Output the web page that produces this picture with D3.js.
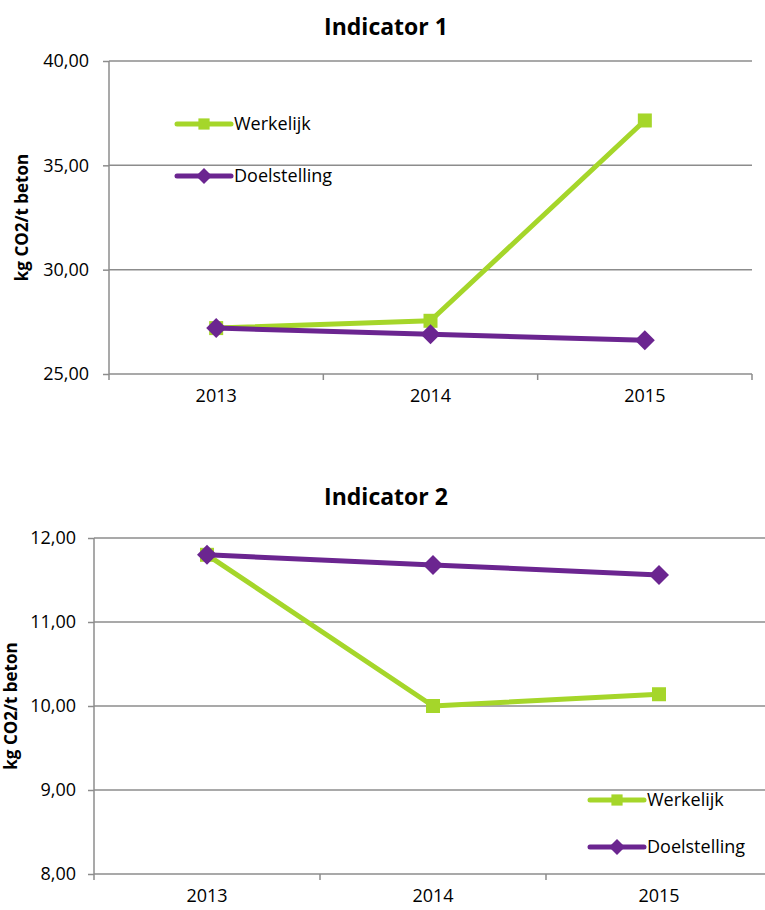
<!DOCTYPE html>
<html>
<head>
<meta charset="utf-8">
<script src="https://cdn.jsdelivr.net/npm/d3@7"></script>
<style>
  body { margin: 0; background: #fff; }
  svg { display: block; font-family: "Open Sans", "Liberation Sans", sans-serif; }
  .grid line { stroke: #8c8c8c; stroke-width: 1.5; }
  .axis path, .axis line { stroke: #8c8c8c; stroke-width: 1.5; }
</style>
</head>
<body>
<svg width="765" height="910"></svg>
<script>
// chart data
const years = ["2013", "2014", "2015"];
const seriesNames = ["Werkelijk", "Doelstelling"];
const werkelijk1 = [27.2, 27.55, 37.15];
const doel1 = [27.2, 26.9, 26.62];
const werkelijk2 = [11.8, 10.0, 10.14];
const doel2 = [11.8, 11.68, 11.56];
const ticks1 = [25, 30, 35, 40];
const ticks2 = [8, 9, 10, 11, 12];

const green = "#a5d62a";
const purple = "#6b2590";
const fmt = d => d3.format(".2f")(d).replace(".", ",");

const svg = d3.select("svg");

// draw one chart panel
function chart(cfg) {
  const x = d3.scaleBand().domain(years).range([cfg.left, cfg.right]);
  const y = d3.scaleLinear().domain(cfg.domain).range([cfg.bottom, cfg.top]);
  const g = svg.append("g");

  // title
  g.append("text")
    .attr("x", cfg.titleX).attr("y", cfg.titleY)
    .attr("text-anchor", "middle")
    .style("font-size", "23px").style("font-weight", "bold")
    .text(cfg.title);

  // grid
  g.append("g").attr("class", "grid")
    .selectAll("line").data(cfg.ticks.filter(t => t !== cfg.domain[0]))
    .enter().append("line")
    .attr("x1", cfg.left).attr("x2", cfg.right)
    .attr("y1", d => y(d)).attr("y2", d => y(d));

  // axes
  g.append("g").attr("class", "axis")
    .attr("transform", "translate(" + cfg.left + ",0)")
    .call(d3.axisLeft(y).tickValues(cfg.ticks).tickFormat(fmt).tickSize(6).tickSizeOuter(0).tickPadding(cfg.yPad))
    .call(a => a.select(".domain").attr("d", "M0," + y(cfg.domain[1]) + "V" + (cfg.bottom + 6)))
    .call(a => a.selectAll("text").style("font-size", "18px").style("fill", "#000")
      .style("font-family", "'Open Sans', sans-serif"));

  const xa = g.append("g").attr("class", "axis")
    .attr("transform", "translate(0," + cfg.bottom + ")")
    .call(d3.axisBottom(x).tickSize(0).tickPadding(15));
  xa.select(".domain").attr("d", "M" + cfg.left + ",0H" + cfg.right);
  xa.selectAll("text").style("font-size", "18px").style("fill", "#000")
    .style("font-family", "'Open Sans', sans-serif");
  xa.selectAll(".sep").data(years.slice(1).concat(["end"]))
    .enter().append("line").attr("class", "sep")
    .attr("x1", (d, i) => cfg.left + x.step() * (i + 1))
    .attr("x2", (d, i) => cfg.left + x.step() * (i + 1))
    .attr("y1", 0).attr("y2", 6);

  // y label
  g.append("text")
    .attr("transform", "translate(" + cfg.labelX + "," + ((cfg.top + cfg.bottom) / 2) + ") rotate(-90)")
    .attr("text-anchor", "middle")
    .style("font-size", "17px").style("font-weight", "bold")
    .text("kg CO2/t beton");

  const line = d3.line().x((d, i) => x(years[i]) + x.bandwidth() / 2).y(d => y(d));
  const series = [
    { name: seriesNames[0], values: cfg.werkelijk, color: green, shape: "square" },
    { name: seriesNames[1], values: cfg.doel, color: purple, shape: "diamond" }
  ];

  series.forEach(s => {
    g.append("path").datum(s.values)
      .attr("d", line).attr("fill", "none")
      .attr("stroke", s.color).attr("stroke-width", 5)
      .attr("stroke-linejoin", "round").attr("stroke-linecap", "round");
    s.values.forEach((v, i) => {
      marker(g, x(years[i]) + x.bandwidth() / 2, y(v), s.shape, s.color, 1);
    });
  });

  // legend
  series.forEach((s, i) => {
    const ly = cfg.legendY[i];
    g.append("line")
      .attr("x1", cfg.legendX).attr("x2", cfg.legendX + 54)
      .attr("y1", ly).attr("y2", ly)
      .attr("stroke", s.color).attr("stroke-width", 5).attr("stroke-linecap", "round");
    marker(g, cfg.legendX + 27, ly, s.shape, s.color, 0.8);
    g.append("text")
      .attr("x", cfg.legendX + 57).attr("y", ly + 6)
      .style("font-size", "18px")
      .text(s.name);
  });
}

function marker(g, cx, cy, shape, color, k) {
  if (shape === "square") {
    const s = 14 * k;
    g.append("rect").attr("x", cx - s / 2).attr("y", cy - s / 2)
      .attr("width", s).attr("height", s).attr("fill", color);
  } else {
    const r = 10 * k;
    g.append("path")
      .attr("d", "M" + cx + "," + (cy - r) + "L" + (cx + r) + "," + cy + "L" + cx + "," + (cy + r) + "L" + (cx - r) + "," + cy + "Z")
      .attr("fill", color);
  }
}

chart({
  title: "Indicator 1", titleX: 386, titleY: 35,
  left: 109, right: 752, top: 61, bottom: 374,
  domain: [25, 40], ticks: ticks1, yPad: 14,
  werkelijk: werkelijk1, doel: doel1,
  labelX: 28, legendX: 177, legendY: [124, 176]
});

chart({
  title: "Indicator 2", titleX: 386, titleY: 505,
  left: 94, right: 772, top: 538, bottom: 874,
  domain: [8, 12], ticks: ticks2, yPad: 12,
  werkelijk: werkelijk2, doel: doel2,
  labelX: 17, legendX: 590, legendY: [800, 847]
});
</script>
</body>
</html>
